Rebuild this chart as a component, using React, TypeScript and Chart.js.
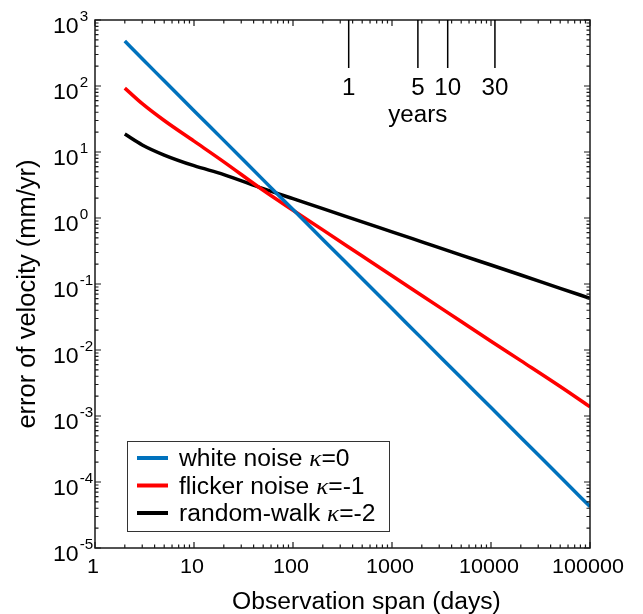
import React, { useEffect, useRef } from "react";
import { Chart, registerables } from "chart.js";

Chart.register(...registerables);

// ---- data ----
const spanDays = [2, 3, 5, 10, 20, 50, 100, 200, 500, 1000, 2000, 5000, 10000, 20000, 50000, 100000];
const whiteNoise = [480, 258, 120, 42.3, 15.0, 3.78, 1.34, 0.473, 0.12, 0.0424, 0.015, 0.00379, 0.00134, 0.000473, 0.00012, 0.0000424];
const flickerNoise = [93, 54, 30, 14.6, 7.1, 2.63, 1.31, 0.66, 0.265, 0.133, 0.067, 0.027, 0.0136, 0.0069, 0.0028, 0.00138];
const randomWalk = [18.7, 12.8, 9.0, 6.2, 4.55, 2.78, 1.96, 1.39, 0.873, 0.617, 0.435, 0.274, 0.194, 0.137, 0.0861, 0.0607];

const seriesNames = ["white noise ", "flicker noise ", "random-walk "];
const seriesKappa = ["=0", "=-1", "=-2"];
const seriesColors = ["#0072BD", "#FF0000", "#000000"];

const xTickExponents = [0, 1, 2, 3, 4, 5];
const yTickExponents = [-5, -4, -3, -2, -1, 0, 1, 2, 3];
const yearMarks = [1, 5, 10, 30];
const daysPerYear = 365.25;

const xTitle = "Observation span (days)";
const yTitle = "error of velocity (mm/yr)";
const yearsLabel = "years";

const SANS = '"Liberation Sans", Arial, sans-serif';
const SERIF = '"Liberation Serif", "Times New Roman", serif';
const SX = 1.05;

function txt(
  ctx: CanvasRenderingContext2D,
  s: string,
  x: number,
  y: number,
  font: string,
  align: CanvasTextAlign = "left",
  baseline: CanvasTextBaseline = "alphabetic"
) {
  ctx.save();
  ctx.font = font;
  ctx.textAlign = align;
  ctx.textBaseline = baseline;
  ctx.fillStyle = "#000";
  ctx.translate(x, y);
  ctx.scale(SX, 1);
  ctx.fillText(s, 0, 0);
  ctx.restore();
}

function tw(ctx: CanvasRenderingContext2D, s: string, font: string) {
  ctx.save();
  ctx.font = font;
  const w = ctx.measureText(s).width * SX;
  ctx.restore();
  return w;
}

const decorPlugin = {
  id: "decor",
  afterDatasetsDraw(chart: any) {
    const ctx: CanvasRenderingContext2D = chart.ctx;
    const xs = chart.scales.x;
    const ys = chart.scales.y;
    const { left, right, top, bottom } = chart.chartArea;

    ctx.save();
    ctx.strokeStyle = "#1a1a1a";
    ctx.lineWidth = 1.5;
    ctx.strokeRect(left, top, right - left, bottom - top);

    // ticks
    ctx.lineWidth = 1.2;
    ctx.beginPath();
    const xmin = Math.min(...xTickExponents);
    const xmax = Math.max(...xTickExponents);
    for (let e = xmin; e <= xmax; e++) {
      const px = xs.getPixelForValue(Math.pow(10, e));
      ctx.moveTo(px, bottom);
      ctx.lineTo(px, bottom - 6);
      ctx.moveTo(px, top);
      ctx.lineTo(px, top + 6);
      if (e < xmax) {
        for (let k = 2; k <= 9; k++) {
          const p = xs.getPixelForValue(k * Math.pow(10, e));
          ctx.moveTo(p, bottom);
          ctx.lineTo(p, bottom - 3.5);
          ctx.moveTo(p, top);
          ctx.lineTo(p, top + 3.5);
        }
      }
    }
    const ymin = Math.min(...yTickExponents);
    const ymax = Math.max(...yTickExponents);
    for (let e = ymin; e <= ymax; e++) {
      const py = ys.getPixelForValue(Math.pow(10, e));
      ctx.moveTo(left, py);
      ctx.lineTo(left + 6, py);
      ctx.moveTo(right, py);
      ctx.lineTo(right - 6, py);
      if (e < ymax) {
        for (let k = 2; k <= 9; k++) {
          const p = ys.getPixelForValue(k * Math.pow(10, e));
          ctx.moveTo(left, p);
          ctx.lineTo(left + 3.5, p);
          ctx.moveTo(right, p);
          ctx.lineTo(right - 3.5, p);
        }
      }
    }
    ctx.stroke();

    // year marks
    ctx.strokeStyle = "#000";
    ctx.lineWidth = 1.5;
    ctx.beginPath();
    yearMarks.forEach((yr) => {
      const px = xs.getPixelForValue(yr * daysPerYear);
      ctx.moveTo(px, top);
      ctx.lineTo(px, 68);
    });
    ctx.stroke();
    yearMarks.forEach((yr) => {
      const px = xs.getPixelForValue(yr * daysPerYear);
      txt(ctx, String(yr), px, 95, `23px ${SANS}`, "center");
    });
    {
      const a = xs.getPixelForValue(yearMarks[1] * daysPerYear);
      const b = xs.getPixelForValue(yearMarks[2] * daysPerYear);
      txt(ctx, yearsLabel, (a + b) / 2 - 15, 122, `23px ${SANS}`, "center");
    }

    // x tick labels
    xTickExponents.forEach((e) => {
      const px = xs.getPixelForValue(Math.pow(10, e));
      txt(ctx, String(Math.pow(10, e)), px - 2, 573, `20.5px ${SANS}`, "center");
    });

    // y tick labels with superscripts
    yTickExponents.forEach((e) => {
      const py = ys.getPixelForValue(Math.pow(10, e));
      const f1 = `22px ${SANS}`;
      txt(ctx, "10", 53, py + 13, f1, "left");
      const w = tw(ctx, "10", f1);
      txt(ctx, String(e), 53 + w + 1, py + 1, `14.5px ${SANS}`, "left");
    });

    // axis titles
    txt(ctx, xTitle, 232, 609, `23.5px ${SANS}`, "left");
    ctx.save();
    ctx.translate(35, 294);
    ctx.rotate(-Math.PI / 2);
    ctx.font = `25.5px ${SANS}`;
    ctx.textAlign = "center";
    ctx.textBaseline = "alphabetic";
    ctx.fillStyle = "#000";
    ctx.fillText(yTitle, 0, 0);
    ctx.restore();

    // legend
    const bx = 127.5, by = 441.5, bw = 262, bh = 90;
    ctx.fillStyle = "#fff";
    ctx.fillRect(bx, by, bw, bh);
    ctx.strokeStyle = "#333";
    ctx.lineWidth = 1;
    ctx.strokeRect(bx, by, bw, bh);
    const rows = [458, 485.5, 513];
    chart.data.datasets.forEach((ds: any, i: number) => {
      const ry = rows[i];
      ctx.strokeStyle = ds.borderColor;
      ctx.lineWidth = 4;
      ctx.beginPath();
      ctx.moveTo(137, ry);
      ctx.lineTo(168, ry);
      ctx.stroke();
      const f = `23.5px ${SANS}`;
      let x = 179;
      txt(ctx, seriesNames[i], x, ry + 8, f);
      x += tw(ctx, seriesNames[i], f);
      const fk = `italic 24px ${SERIF}`;
      txt(ctx, "\u03BA", x, ry + 8, fk);
      x += tw(ctx, "\u03BA", fk);
      txt(ctx, seriesKappa[i], x, ry + 8, f);
    });

    ctx.restore();
  },
};

export default function App() {
  const ref = useRef<HTMLCanvasElement | null>(null);
  useEffect(() => {
    if (!ref.current) return;
    const mk = (vals: number[]) => spanDays.map((d, i) => ({ x: d, y: vals[i] }));
    const allSeries = [whiteNoise, flickerNoise, randomWalk];
    const chart = new Chart(ref.current, {
      type: "line",
      data: {
        datasets: allSeries.map((vals, i) => ({
          label: seriesNames[i] + "\u03BA" + seriesKappa[i],
          data: mk(vals),
          borderColor: seriesColors[i],
          backgroundColor: seriesColors[i],
          borderWidth: 3.5,
          pointRadius: 0,
          fill: false,
          cubicInterpolationMode: "monotone" as const,
        })),
      },
      options: {
        responsive: false,
        animation: false,
        devicePixelRatio: 1,
        layout: { padding: { left: 95, top: 20, right: 53, bottom: 66 } },
        scales: {
          x: { type: "logarithmic", min: 1, max: 100000, display: false },
          y: { type: "logarithmic", min: 1e-5, max: 1000, display: false },
        },
        plugins: {
          legend: { display: false },
          tooltip: { enabled: false },
        },
      },
      plugins: [decorPlugin],
    });
    return () => chart.destroy();
  }, []);
  return (
    <div style={{ position: "fixed", left: 0, top: 0, width: 643, height: 614, background: "#fff" }}>
      <canvas ref={ref} width={643} height={614} style={{ display: "block" }} />
    </div>
  );
}
